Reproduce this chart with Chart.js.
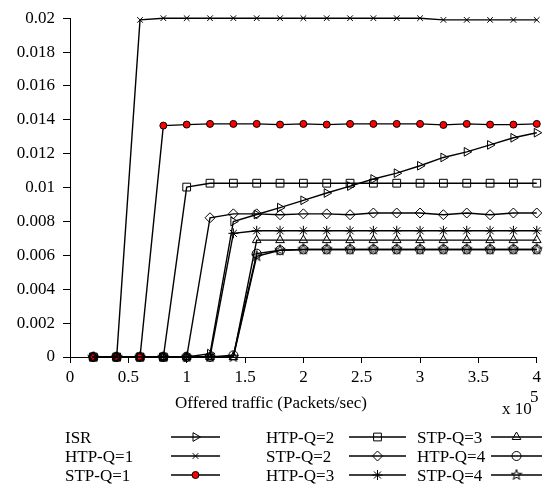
<!DOCTYPE html>
<html>
<head>
<meta charset="utf-8">
<script src="https://cdn.jsdelivr.net/npm/chart.js@4/dist/chart.umd.min.js"></script>
<style>
  body { margin: 0; background: #fff; }
  #box { position: relative; width: 545px; height: 487px; font-family: "Liberation Serif", serif; font-size: 17px; color: #000; }
  #box canvas { position: absolute; left: 0; top: 0; }
  .lbl { position: absolute; line-height: 1; white-space: nowrap; transform: translateY(-50%); }
</style>
</head>
<body>
<div id="box">
  <canvas id="graphique" width="545" height="487"></canvas>
  <div class="lbl" style="left:271px; top:402px; transform: translate(-50%, -50%);">Offered traffic (Packets/sec)</div>
  <div class="lbl" style="left:502px; top:408px;">x 10</div>
  <div class="lbl" style="left:530px; top:396px;">5</div>
  <div id="legende"></div>
</div>
<script>
// Abscisses : trafic offert (x 10^5 paquets/sec)
const trafficX = [0.2, 0.4, 0.6, 0.8, 1.0, 1.2, 1.4, 1.6, 1.8, 2.0, 2.2, 2.4, 2.6, 2.8, 3.0, 3.2, 3.4, 3.6, 3.8, 4.0];

// Valeurs
const isr  = [0, 0, 0, 0, 0, 0.0002, 0.0080, 0.00841, 0.00882, 0.00925, 0.00968, 0.01009, 0.01051, 0.01085, 0.01129, 0.01178, 0.01211, 0.01252, 0.01294, 0.01324];
const htp1 = [0, 0, 0.0199, 0.02, 0.02, 0.02, 0.02, 0.02, 0.02, 0.02, 0.02, 0.02, 0.02, 0.02, 0.02, 0.0199, 0.0199, 0.0199, 0.0199, 0.0199];
const stp1 = [0, 0, 0, 0.01366, 0.01372, 0.01376, 0.01376, 0.01376, 0.01372, 0.01376, 0.01372, 0.01376, 0.01376, 0.01376, 0.01376, 0.0137, 0.01376, 0.01372, 0.01372, 0.01376];
const htp2 = [0, 0, 0, 0, 0.01003, 0.01026, 0.01026, 0.01026, 0.01026, 0.01026, 0.01026, 0.01026, 0.01026, 0.01026, 0.01026, 0.01026, 0.01026, 0.01026, 0.01026, 0.01026];
const stp2 = [0, 0, 0, 0, 0, 0.00822, 0.00845, 0.00845, 0.0084, 0.00845, 0.00845, 0.0084, 0.0085, 0.0085, 0.0085, 0.0084, 0.0085, 0.0084, 0.0085, 0.0085];
const htp3 = [0, 0, 0, 0, 0, 0, 0.0073, 0.00745, 0.00745, 0.00745, 0.00745, 0.00745, 0.00745, 0.00745, 0.00745, 0.00745, 0.00745, 0.00745, 0.00745, 0.00745];
const stp3 = [0, 0, 0, 0, 0, 0, 0, 0.0069, 0.0069, 0.0069, 0.0069, 0.0069, 0.0069, 0.0069, 0.0069, 0.0069, 0.0069, 0.0069, 0.0069, 0.0069];
const htp4 = [0, 0, 0, 0, 0, 0, 0.0001, 0.0061, 0.0063, 0.00635, 0.00635, 0.00635, 0.00635, 0.00635, 0.00635, 0.00635, 0.00635, 0.00635, 0.00635, 0.00635];
const stp4 = [0, 0, 0, 0, 0, 0, 0, 0.00595, 0.0063, 0.00635, 0.00635, 0.00635, 0.00635, 0.00635, 0.00635, 0.00635, 0.00635, 0.00635, 0.00635, 0.00635];

const noms = ["ISR", "HTP-Q=1", "STP-Q=1", "HTP-Q=2", "STP-Q=2", "HTP-Q=3", "STP-Q=3", "HTP-Q=4", "STP-Q=4"];
const yTicksMax = 0.02;
const xTicksMax = 4;

// Marqueur pentagramme (pas fourni par Chart.js)
function pentagramme(taille) {
    const c = document.createElement("canvas");
    c.width = taille; c.height = taille;
    const ctx = c.getContext("2d");
    const r = taille / 2 - 0.5, ri = r * 0.4, cx = taille / 2, cy = taille / 2;
    ctx.beginPath();
    for (let i = 0; i < 10; i++) {
        const a = -Math.PI / 2 + i * Math.PI / 5;
        const rr = i % 2 === 0 ? r : ri;
        ctx.lineTo(cx + rr * Math.cos(a), cy + rr * Math.sin(a));
    }
    ctx.closePath();
    ctx.strokeStyle = "#000";
    ctx.lineWidth = 1;
    ctx.stroke();
    return c;
}
const etoile = pentagramme(12);

function serie(label, valeurs, style) {
    return Object.assign({
        label: label,
        data: trafficX.map((x, i) => ({ x: x, y: valeurs[i] })),
        borderColor: "#000",
        borderWidth: 1.4,
        pointBorderColor: "#000",
        pointBackgroundColor: "rgba(0,0,0,0)",
        pointBorderWidth: 1,
        pointRadius: 4.5,
        tension: 0,
        clip: false,
    }, style);
}

const datasets = [
    serie(noms[0], isr,  { pointStyle: "triangle", pointRotation: 90, pointRadius: 5 }),
    serie(noms[1], htp1, { pointStyle: "crossRot", pointRadius: 4 }),
    serie(noms[2], stp1, { pointStyle: "circle", pointBackgroundColor: "#ff0000", pointRadius: 3.5 }),
    serie(noms[3], htp2, { pointStyle: "rect", pointRadius: 5.5 }),
    serie(noms[4], stp2, { pointStyle: "rectRot", pointRadius: 5 }),
    serie(noms[5], htp3, { pointStyle: "star", pointRadius: 5 }),
    serie(noms[6], stp3, { pointStyle: "triangle", pointRadius: 5 }),
    serie(noms[7], htp4, { pointStyle: "circle", pointRadius: 4.5 }),
    serie(noms[8], stp4, { pointStyle: etoile }),
];

// Position de la légende (3 colonnes, remplies par colonne)
const legCols = [{ texte: 65, l1: 171, l2: 220 }, { texte: 266, l1: 349, l2: 406 }, { texte: 417, l1: 491, l2: 542 }];
const legRows = [437, 456, 475];

const legende = document.getElementById("legende");
noms.forEach((nom, i) => {
    const col = legCols[Math.floor(i / 3)], row = legRows[i % 3];
    const d = document.createElement("div");
    d.className = "lbl";
    d.style.left = col.texte + "px";
    d.style.top = row + "px";
    d.textContent = nom;
    legende.appendChild(d);
});

const echantillonsLegende = {
    id: "echantillonsLegende",
    afterDraw(chart) {
        const ctx = chart.ctx;
        chart.data.datasets.forEach((ds, i) => {
            const col = legCols[Math.floor(i / 3)], row = legRows[i % 3];
            ctx.save();
            ctx.strokeStyle = "#000";
            ctx.lineWidth = 1.6;
            ctx.beginPath();
            ctx.moveTo(col.l1, row);
            ctx.lineTo(col.l2, row);
            ctx.stroke();
            ctx.fillStyle = ds.pointBackgroundColor;
            ctx.strokeStyle = "#000";
            ctx.lineWidth = 1;
            Chart.helpers.drawPoint(ctx, {
                pointStyle: ds.pointStyle,
                rotation: ds.pointRotation || 0,
                radius: ds.pointRadius,
                borderWidth: 1,
            }, (col.l1 + col.l2) / 2, row);
            ctx.restore();
        });
    }
};

const config = {
    type: "line",
    data: { datasets: datasets },
    options: {
        responsive: false,
        animation: false,
        devicePixelRatio: 1,
        layout: { padding: { left: 0, top: 14, right: 7, bottom: 0 } },
        plugins: { legend: { display: false }, tooltip: { enabled: false } },
        scales: {
            x: {
                type: "linear",
                min: 0,
                max: xTicksMax,
                afterFit: (s) => { s.height = 130; },
                border: { display: true, color: "#000", width: 1 },
                grid: { drawOnChartArea: false, drawTicks: true, tickLength: 6, color: "#000" },
                ticks: {
                    stepSize: 0.5,
                    padding: 4,
                    color: "#000",
                    maxRotation: 0,
                    font: { family: "Liberation Serif", size: 17 },
                    callback: (v) => String(Number(v.toFixed(1))),
                },
            },
            y: {
                min: 0,
                max: yTicksMax,
                afterFit: (s) => { s.width = 70; },
                border: { display: true, color: "#000", width: 1 },
                grid: { drawOnChartArea: false, drawTicks: true, tickLength: 7, color: "#000" },
                ticks: {
                    stepSize: 0.002,
                    padding: 8,
                    color: "#000",
                    font: { family: "Liberation Serif", size: 17 },
                    callback: (v) => String(Number(v.toFixed(3))),
                },
            },
        },
    },
    plugins: [echantillonsLegende],
};

const graphique = new Chart(document.getElementById("graphique"), config);
</script>
</body>
</html>
